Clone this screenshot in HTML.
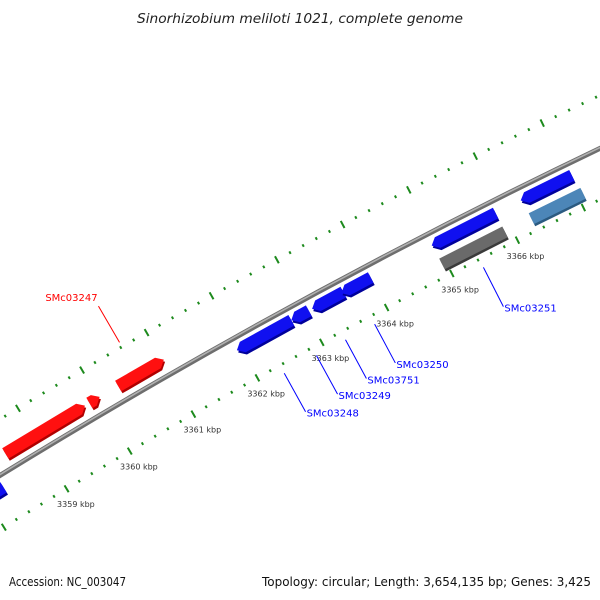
<!DOCTYPE html>
<html><head><meta charset="utf-8"><style>
html,body{margin:0;background:#fff;overflow:hidden;width:600px;height:600px}
svg{display:block;overflow:hidden;font-family:"DejaVu Sans","Liberation Sans",sans-serif}
</style></head><body>
<svg id="map" width="600" height="600" viewBox="0 0 600 600" xmlns="http://www.w3.org/2000/svg">
<rect width="600" height="600" fill="#fff"/>
<text x="137" y="23" textLength="326" lengthAdjust="spacingAndGlyphs" font-size="13" font-style="italic" fill="#222">Sinorhizobium meliloti 1021, complete genome</text>
<g id="ticks"></g>
<g id="backbone"></g>
<g id="genes"></g>
<g id="labels"></g>
<text x="9" y="586" textLength="117" lengthAdjust="spacingAndGlyphs" font-size="12" fill="#111">Accession: NC_003047</text>
<text x="262" y="586" textLength="329" lengthAdjust="spacingAndGlyphs" font-size="12" fill="#111">Topology: circular; Length: 3,654,135 bp; Genes: 3,425</text>
</svg>
<script>
// data
const geneStarts = [3358.0, 3358.54, 3359.86, 3360.31, 3361.94, 3362.78, 3363.10, 3363.55, 3364.93, 3364.94, 3366.28, 3366.30, 3367.50];
const geneEnds   = [3358.28, 3359.79, 3360.02, 3361.02, 3362.78, 3363.05, 3363.58, 3364.00, 3365.90, 3365.90, 3367.05, 3367.08, 3368.3];
const geneStrand = [-1, 1, 1, 1, -1, -1, -1, -1, -1, 0, -1, 0, -1];
const geneTrack  = ["fwdBlue","red","red","red","blue","blue","blue","blue","blue","grey","blue","lightblue","blue"];
const tickLabelsKbp = [3359, 3360, 3361, 3362, 3363, 3364, 3365, 3366];
const geneNames = ["SMc03247","SMc03248","SMc03249","SMc03751","SMc03250","SMc03251"];
const geneNameKbp = [3360.62, 3362.35, 3362.85, 3363.3, 3363.75, 3365.42];

// geometry
const CX = 3435.7, CY = 6065, R = 6561;
const A0 = -121.14, DEG_PER_KBP = 0.647;
function ang(k){ return (A0 + (k - 3359) * DEG_PER_KBP) * Math.PI / 180; }
function pt(k, r){ const a = ang(k); return [CX + r*Math.cos(a), CY + r*Math.sin(a)]; }
const NS = "http://www.w3.org/2000/svg";
function mk(tag, attrs, parent){ const e = document.createElementNS(NS, tag); for (const k in attrs) e.setAttribute(k, attrs[k]); parent.appendChild(e); return e; }

// ticks
const tg = document.getElementById('ticks');
for (let i = 0; i <= 60; i++) {
  const k = 3357.0 + i * 0.2;
  const major = Math.abs(k - Math.round(k)) < 0.01;
  [6609, 6515].forEach(r => {
    const len = major ? 4 : 1.4;
    const p1 = pt(k, r - len), p2 = pt(k, r + len);
    const t = mk('line', {x1:p1[0], y1:p1[1], x2:p2[0], y2:p2[1], stroke:'#1d8a1d', 'stroke-width':2}, tg);
    
    
  });
}
tickLabelsKbp.forEach(k => {
  const p = pt(k, 6497);
  const t = mk('text', {x:p[0], y:p[1]+3, 'text-anchor':'middle', 'font-size':8, fill:'#333'}, tg);
  t.textContent = k + ' kbp';
  
  
});

// backbone
const bg = document.getElementById('backbone');
let c1 = mk('circle', {cx:CX, cy:CY, r:R, fill:'none', stroke:'#6e6e6e', 'stroke-width':5}, bg);


let c2 = mk('circle', {cx:CX, cy:CY, r:R+0.8, fill:'none', stroke:'#b0b0b0', 'stroke-width':1.6}, bg);



// genes
const trackR = {red:6577, blue:6549, fwdBlue:6549, grey:6528, lightblue:6528};
const trackCol = {red:['#ff1010','#b00000'], blue:['#1010f0','#00009a'], fwdBlue:['#1010f0','#00009a'], grey:['#6a6a6a','#3a3a3a'], lightblue:['#4c86b8','#2b5a80']};
const gg = document.getElementById('genes');
function genePoly(s, e, r, h, strand){
  const arrow = 0.09;
  const pts = [];
  if (strand === 1) {
    const ae = Math.max(s, e - arrow);
    pts.push(pt(s, r-h/2), pt(ae, r-h/2), pt(e, r), pt(ae, r+h/2), pt(s, r+h/2));
  } else if (strand === -1) {
    const as = Math.min(e, s + arrow);
    pts.push(pt(s, r), pt(as, r-h/2), pt(e, r-h/2), pt(e, r+h/2), pt(as, r+h/2));
  } else {
    pts.push(pt(s, r-h/2), pt(e, r-h/2), pt(e, r+h/2), pt(s, r+h/2));
  }
  return pts.map(p => p[0].toFixed(1)+','+p[1].toFixed(1)).join(' ');
}
geneStarts.forEach((s, i) => {
  const e = geneEnds[i], tr = geneTrack[i], r = trackR[tr], col = trackCol[tr];
  const sh = mk('polygon', {points:genePoly(s, e, r-2.5, 12, geneStrand[i]), fill:col[1]}, gg);
  
  
  const g = mk('polygon', {points:genePoly(s, e, r, 12, geneStrand[i]), fill:col[0]}, gg);
  
  
});

// gene labels
const lg = document.getElementById('labels');
geneNames.forEach((n, i) => {
  const k = geneNameKbp[i];
  const red = i === 0;
  const col = red ? '#ff0000' : '#0000ff';
  const r1 = red ? 6614 : 6506, r2 = red ? 6656 : 6462;
  const p1 = pt(k, r1), p2 = pt(k, r2);
  const l = mk('line', {x1:p1[0], y1:p1[1], x2:p2[0], y2:p2[1], stroke:col, 'stroke-width':1}, lg);
  
  
  const t = mk('text', red ? {x:p2[0]-27, y:p2[1]-5, 'text-anchor':'middle', 'font-size':10, fill:col}
                           : {x:p2[0]+1, y:p2[1]+5, 'font-size':10, fill:col}, lg);
  t.textContent = n;
  
  
});
</script>
</body></html>
